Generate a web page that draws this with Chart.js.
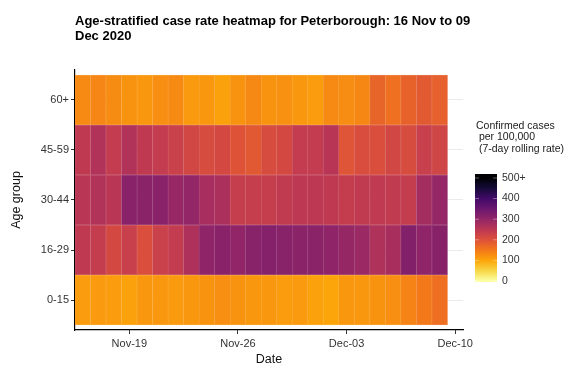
<!DOCTYPE html>
<html>
<head>
<meta charset="utf-8">
<script src="https://cdn.jsdelivr.net/npm/chart.js@4.4.1/dist/chart.umd.min.js"></script>
<style>
  html, body { margin: 0; padding: 0; background: #fff; }
  canvas { display: block; }
</style>
</head>
<body>
<canvas id="heatmap" width="581" height="372"></canvas>
<script>
// ── data ──────────────────────────────────────────
const dates = [
  'Nov-16', 'Nov-17', 'Nov-18', 'Nov-19', 'Nov-20', 'Nov-21', 'Nov-22',
  'Nov-23', 'Nov-24', 'Nov-25', 'Nov-26', 'Nov-27', 'Nov-28', 'Nov-29',
  'Nov-30', 'Dec-01', 'Dec-02', 'Dec-03', 'Dec-04', 'Dec-05', 'Dec-06',
  'Dec-07', 'Dec-08', 'Dec-09', 'Dec-10'
];
const xTickLabels = ['Nov-19', 'Nov-26', 'Dec-03', 'Dec-10'];
const ageGroups = ['0-15', '16-29', '30-44', '45-59', '60+'];

// 7-day rolling rate per 100,000, one value per day (16 Nov – 09 Dec)
const rate0to15 = [110, 112, 110, 105, 115, 115, 112, 115, 120, 125, 120, 115,
                   115, 110, 112, 105, 100, 115, 116, 120, 125, 138, 150, 162];
const rate16to29 = [245, 238, 215, 232, 205, 230, 240, 268, 305, 312, 303, 314,
                    318, 314, 310, 310, 305, 296, 292, 266, 274, 320, 305, 315];
const rate30to44 = [252, 262, 252, 312, 310, 312, 295, 300, 276, 270, 236, 236,
                    236, 242, 248, 248, 245, 238, 242, 244, 242, 238, 280, 298];
const rate45to59 = [245, 262, 240, 262, 245, 240, 230, 220, 210, 215, 197, 190,
                    210, 215, 240, 240, 255, 195, 208, 205, 220, 210, 232, 222];
const rate60plus = [130, 135, 128, 120, 115, 125, 130, 112, 115, 105, 120, 132,
                    120, 122, 115, 110, 130, 127, 133, 175, 160, 178, 188, 180];

const legendValues = [0, 100, 200, 300, 400, 500];
const legendLabels = ['0', '100', '200', '300', '400', '500+'];

// ── colour scale (inferno, reversed: low = yellow) ────
const INFERNO = ['#000004', '#160b39', '#420a68', '#6a176e', '#932667', '#bc3754',
                 '#dd513a', '#f37819', '#fca50a', '#f6d746', '#fcffa4'];
const RATE_MAX = 500;

function hexToRgb(h) {
  return [1, 3, 5].map(i => parseInt(h.slice(i, i + 2), 16));
}

function rateColor(v, lighten = 0) {
  const t = 1 - Math.min(Math.max(v, 0), RATE_MAX) / RATE_MAX;
  const pos = t * (INFERNO.length - 1);
  const i = Math.min(Math.floor(pos), INFERNO.length - 2);
  const f = pos - i;
  const a = hexToRgb(INFERNO[i]), b = hexToRgb(INFERNO[i + 1]);
  const rgb = a.map((c, k) => {
    const mixed = c + (b[k] - c) * f;
    return Math.round(mixed + (255 - mixed) * lighten);
  });
  return `rgb(${rgb.join(',')})`;
}

const rows = [rate0to15, rate16to29, rate30to44, rate45to59, rate60plus];

// ── title + colour bar legend ─────────────────────
const decorations = {
  id: 'decorations',
  afterDraw(chart) {
    const ctx = chart.ctx;
    ctx.save();
    ctx.fillStyle = '#000';
    ctx.font = 'bold 13px "Liberation Sans", Arial, sans-serif';
    ctx.textBaseline = 'alphabetic';
    ctx.textAlign = 'left';
    ctx.fillText('Age-stratified case rate heatmap for Peterborough: 16 Nov to 09', 75, 25);
    ctx.fillText('Dec 2020', 75, 40);

    ctx.fillStyle = '#1a1a1a';
    ctx.font = '10.5px "Liberation Sans", Arial, sans-serif';
    ctx.textBaseline = 'middle';
    ctx.fillText('Confirmed cases', 476, 126);
    ctx.fillText(' per 100,000', 476, 137.5);
    ctx.fillText(' (7-day rolling rate)', 476, 149);

    const barX = 475, barW = 22, barTop = 174, barBottom = 282;
    const y0 = 281, y500 = 178;
    const toY = v => y0 - (y0 - y500) * v / RATE_MAX;
    const grad = ctx.createLinearGradient(0, y0, 0, y500);
    for (let k = 0; k <= 10; k++) {
      grad.addColorStop(k / 10, rateColor(RATE_MAX * k / 10));
    }
    ctx.fillStyle = grad;
    ctx.fillRect(barX, barTop, barW, barBottom - barTop);

    ctx.strokeStyle = 'rgba(255,255,255,0.6)';
    ctx.lineWidth = 0.6;
    ctx.fillStyle = '#333';
    legendValues.forEach((v, i) => {
      const y = toY(v);
      ctx.beginPath();
      ctx.moveTo(barX, y); ctx.lineTo(barX + 4, y);
      ctx.moveTo(barX + barW - 4, y); ctx.lineTo(barX + barW, y);
      ctx.stroke();
      ctx.fillText(legendLabels[i], 502, y);
    });
    ctx.restore();
  }
};

// ── chart ─────────────────────────────────────────
const tickFont = { family: '"Liberation Sans", Arial, sans-serif', size: 11 };
const titleFont = { family: '"Liberation Sans", Arial, sans-serif', size: 12.5 };

new Chart(document.getElementById('heatmap'), {
  type: 'bar',
  data: {
    labels: dates,
    datasets: rows.map((vals, r) => ({
      label: ageGroups[r],
      data: vals.map(() => 1),
      rates: vals,
      backgroundColor: vals.map(v => rateColor(v)),
      borderColor: vals.map(v => rateColor(v, 0.28)),
      borderWidth: 0.5,
      borderSkipped: false,
      categoryPercentage: 1,
      barPercentage: 1,
    }))
  },
  options: {
    responsive: false,
    animation: false,
    layout: { padding: { top: 70, right: 118, left: 0, bottom: 0 } },
    scales: {
      x: {
        stacked: true,
        offset: true,
        afterFit: s => { s.height = 42; },
        grid: {
          offset: false,
          drawOnChartArea: false,
          tickLength: 4,
          tickColor: c => xTickLabels.includes(dates[c.index]) ? '#333' : 'rgba(0,0,0,0)',
        },
        border: { color: '#000', width: 1.2 },
        ticks: {
          autoSkip: false,
          maxRotation: 0,
          padding: 3,
          color: '#333',
          font: tickFont,
          callback(value) {
            const l = this.getLabelForValue(value);
            return xTickLabels.includes(l) ? l : '';
          }
        },
        title: { display: true, text: 'Date', color: '#111', font: titleFont, padding: { top: 0, bottom: 5 } }
      },
      y: {
        stacked: true,
        min: -0.1,
        max: 5.1,
        afterFit: s => { s.width = 75; },
        afterBuildTicks: s => { s.ticks = ageGroups.map((g, i) => ({ value: i + 0.5 })); },
        grid: { color: '#ebebeb', tickColor: '#333', tickLength: 4 },
        border: { color: '#000', width: 1.2 },
        ticks: {
          padding: 2,
          color: '#333',
          font: tickFont,
          callback: v => ageGroups[Math.floor(v)]
        },
        title: { display: true, text: 'Age group', color: '#111', font: titleFont, padding: { top: 9, bottom: 0 } }
      }
    },
    plugins: {
      legend: { display: false },
      tooltip: {
        callbacks: {
          label: c => `${c.dataset.label}: ${c.dataset.rates[c.dataIndex]} per 100,000`
        }
      }
    }
  },
  plugins: [decorations]
});
</script>
</body>
</html>
